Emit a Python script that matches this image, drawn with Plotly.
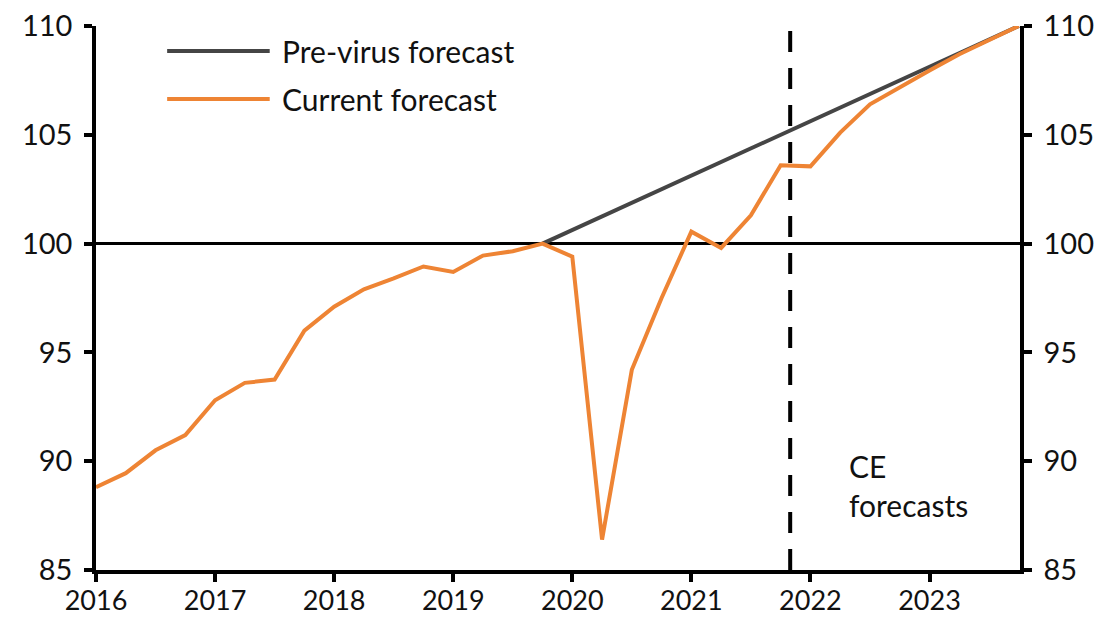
import plotly.graph_objects as go

# Quarterly dates (decimal years)
quarters = [2016.0, 2016.25, 2016.5, 2016.75, 2017.0, 2017.25, 2017.5, 2017.75,
            2018.0, 2018.25, 2018.5, 2018.75, 2019.0, 2019.25, 2019.5, 2019.75,
            2020.0, 2020.25, 2020.5, 2020.75, 2021.0, 2021.25, 2021.5, 2021.75,
            2022.0, 2022.25, 2022.5, 2022.75, 2023.0, 2023.25, 2023.5, 2023.75]

current_forecast = [88.8, 89.45, 90.5, 91.2, 92.8, 93.6, 93.75, 96.0,
                    97.1, 97.9, 98.4, 98.95, 98.7, 99.45, 99.65, 100.0,
                    99.4, 86.4, 94.2, 97.5, 100.55, 99.8, 101.3, 103.6,
                    103.55, 105.1, 106.4, 107.2, 107.95, 108.7, 109.35, 110.0]

previrus_x = [2019.75, 2020.75, 2021.75, 2022.75, 2023.75]
previrus_forecast = [100.0, 102.5, 105.0, 107.5, 110.0]

forecast_start = 2021.83
year_ticks = [2016, 2017, 2018, 2019, 2020, 2021, 2022, 2023]
year_labels = ["2016", "2017", "2018", "2019", "2020", "2021", "2022", "2023"]
y_ticks = [85, 90, 95, 100, 105, 110]

FONT = "Lato"
ORANGE = "#EE8434"
GREY = "#454545"
TEXT = "#111111"

fig = go.Figure()
fig.add_trace(go.Scatter(x=previrus_x, y=previrus_forecast, mode="lines",
                         line=dict(color=GREY, width=4), name="Pre-virus forecast",
                         showlegend=False))
fig.add_trace(go.Scatter(x=quarters, y=current_forecast, mode="lines",
                         line=dict(color=ORANGE, width=4), name="Current forecast",
                         showlegend=False))
# invisible trace to anchor right axis
fig.add_trace(go.Scatter(x=previrus_x, y=previrus_forecast, yaxis="y2", mode="lines",
                         line=dict(width=0), opacity=0, hoverinfo="skip", showlegend=False))

# horizontal line at 100
fig.add_hline(y=100, line=dict(color="black", width=3), layer="below")
# forecast divider
fig.add_shape(type="line", xref="x", yref="paper", x0=forecast_start, x1=forecast_start,
              y0=0, y1=1.01, line=dict(color="black", width=4, dash="21px,16px"))

# manual legend
legend_items = [("Pre-virus forecast", GREY, 0.954), ("Current forecast", ORANGE, 0.866)]
for label, color, yy in legend_items:
    fig.add_shape(type="line", xref="paper", yref="paper", x0=0.077, x1=0.188, y0=yy, y1=yy,
                  line=dict(color=color, width=4))
    fig.add_annotation(xref="paper", yref="paper", x=0.199, y=yy, text=label, showarrow=False,
                       xanchor="left", yanchor="middle", font=dict(family=FONT, size=30, color=TEXT))

fig.add_annotation(xref="x", yref="y", x=2022.31, y=88.9, text="CE<br>forecasts", showarrow=False,
                   xanchor="left", yanchor="middle", align="left",
                   font=dict(family=FONT, size=30, color=TEXT))

axis_common = dict(showgrid=False, zeroline=False, showline=True, linecolor="black", linewidth=3.5,
                   ticks="outside", ticklen=8, tickwidth=3.5, tickcolor="black", automargin=False)

fig.update_layout(
    width=1113, height=620,
    margin=dict(l=96, r=93, t=26, b=50),
    paper_bgcolor="white", plot_bgcolor="white",
    showlegend=False,
    xaxis=dict(range=[2016, 2023.76], tickvals=year_ticks, ticktext=year_labels,
               ticklabelstandoff=-4,
               tickfont=dict(family=FONT, size=27, color=TEXT), **axis_common),
    yaxis=dict(range=[85, 110], tickvals=y_ticks, ticklabelstandoff=6,
               tickfont=dict(family=FONT, size=29, color=TEXT), **axis_common),
    yaxis2=dict(range=[85, 110], tickvals=y_ticks, overlaying="y", side="right",
                ticklabelstandoff=6, tickfont=dict(family=FONT, size=29, color=TEXT), **axis_common),
)

fig.write_html("out.html", config={"displayModeBar": False},
               post_script="document.body.style.margin='0';")
